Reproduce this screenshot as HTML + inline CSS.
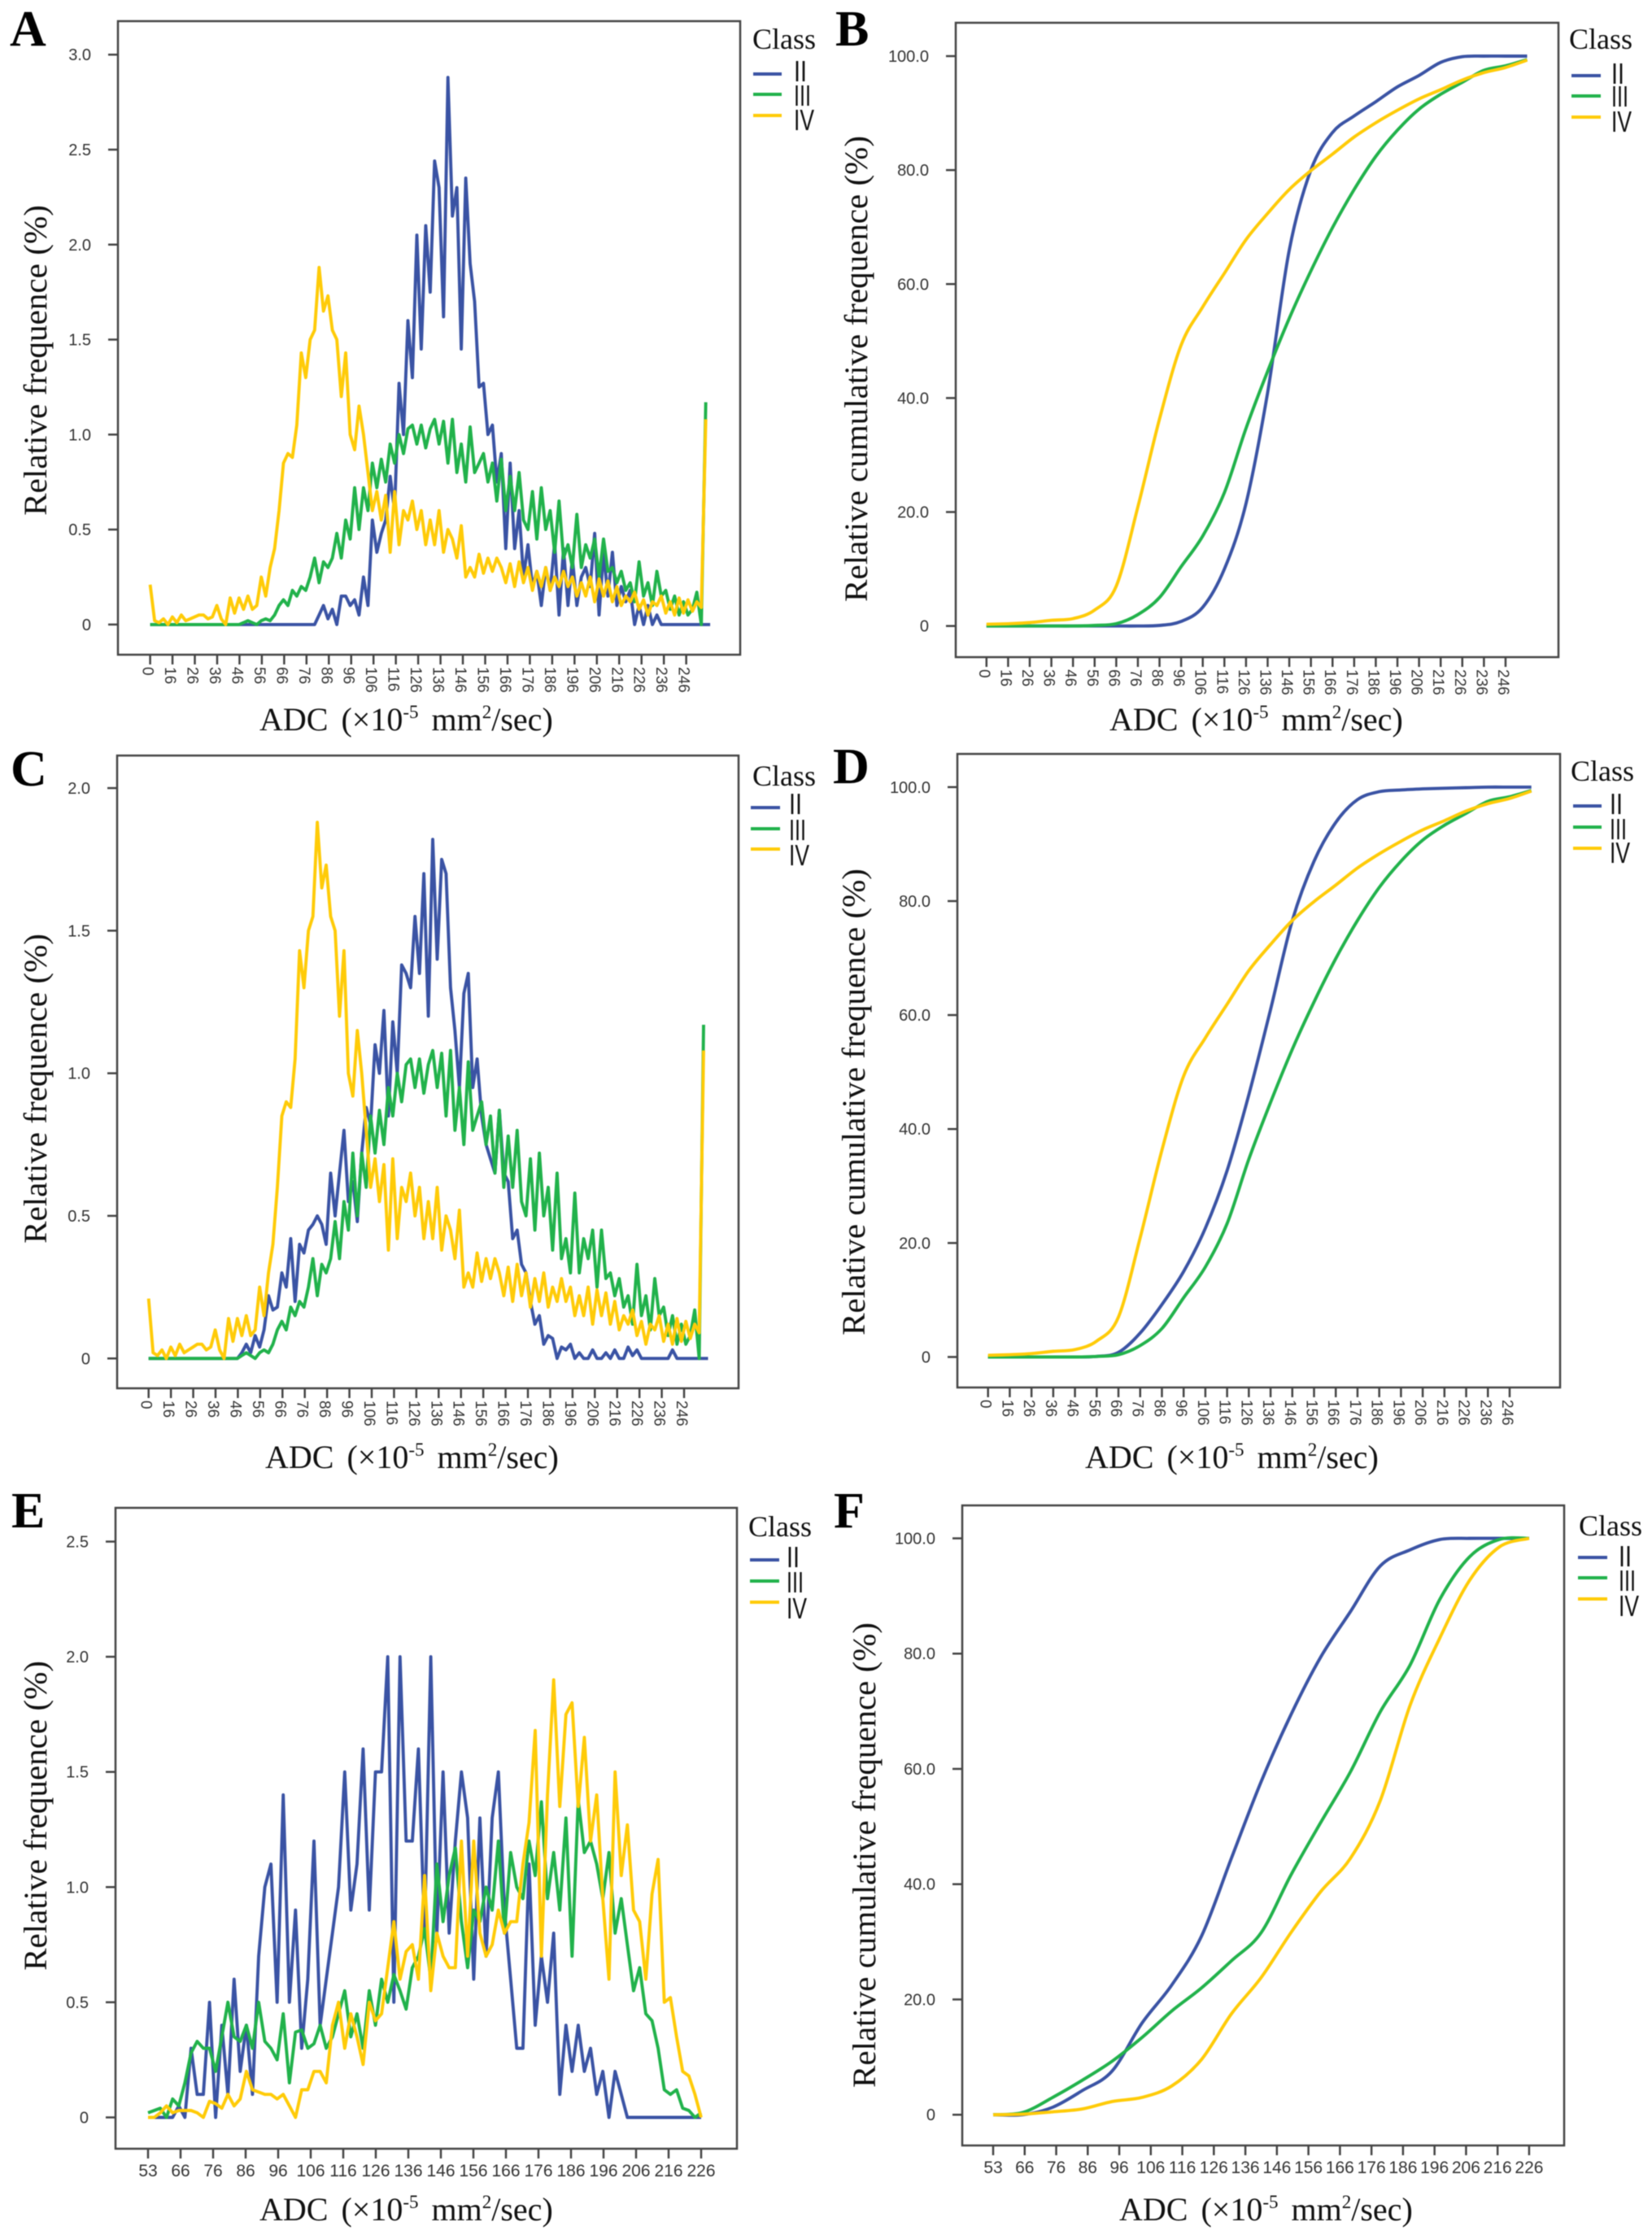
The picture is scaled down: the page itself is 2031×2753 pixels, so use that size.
<!DOCTYPE html>
<html lang="en">
<head>
<meta charset="utf-8">
<title>ADC histograms by class</title>
<style>
html,body{margin:0;padding:0;background:#fff;width:2031px;height:2753px;overflow:hidden}
svg{display:block;filter:blur(.6px)}
.letter{font:bold 62px "Liberation Serif",serif;fill:#000}
.cls{font:36px "Liberation Serif",serif;fill:#111}
.lab{font:36px "Liberation Sans",sans-serif;fill:#111}
.axt{font:40px "Liberation Serif",serif;fill:#111}
.sup{font-size:23px}
.tick{font:20px "Liberation Sans",sans-serif;fill:#333}
.frame{fill:none;stroke:#444;stroke-width:2.5}
.leg{stroke-width:4;fill:none}
.c2{stroke:#3a53a4}.c3{stroke:#21b24b}.c4{stroke:#ffcb08}
</style>
</head>
<body>
<svg id="figure" xmlns="http://www.w3.org/2000/svg" width="2031" height="2753" viewBox="0 0 2031 2753">

<g id="panel-a">
<text class="letter" x="12" y="56">A</text>
<rect class="frame" x="145" y="26" width="765" height="779"/>
<text class="axt" transform="translate(57,634) rotate(-90)" textLength="382" lengthAdjust="spacingAndGlyphs">Relative frequence (%)</text>
<text class="axt" x="319" y="898" word-spacing="6">ADC (×10<tspan class="sup" dy="-15">-5</tspan><tspan dy="15"> mm</tspan><tspan class="sup" dy="-15">2</tspan><tspan dy="15">/sec)</tspan></text>
<text class="cls" x="925" y="60">Class</text>
<line class="leg c2" x1="926" x2="961" y1="91" y2="91"/>
<line class="leg c3" x1="926" x2="961" y1="116" y2="116"/>
<line class="leg c4" x1="926" x2="961" y1="142" y2="142"/>
<text class="lab" x="976" y="100" textLength="16" lengthAdjust="spacingAndGlyphs">II</text>
<text class="lab" x="976" y="130" textLength="21" lengthAdjust="spacingAndGlyphs">III</text>
<text class="lab" x="976" y="160" textLength="25" lengthAdjust="spacingAndGlyphs">IV</text>
</g>

<g id="panel-b">
<text class="letter" x="1027" y="56">B</text>
<rect class="frame" x="1175" y="28" width="741" height="780"/>
<text class="axt" transform="translate(1066,740) rotate(-90)" textLength="573" lengthAdjust="spacingAndGlyphs">Relative cumulative frequence (%)</text>
<text class="axt" x="1364" y="898" word-spacing="6">ADC (×10<tspan class="sup" dy="-15">-5</tspan><tspan dy="15"> mm</tspan><tspan class="sup" dy="-15">2</tspan><tspan dy="15">/sec)</tspan></text>
<text class="cls" x="1929" y="60">Class</text>
<line class="leg c2" x1="1932" x2="1968" y1="93" y2="93"/>
<line class="leg c3" x1="1932" x2="1968" y1="118" y2="118"/>
<line class="leg c4" x1="1932" x2="1968" y1="144" y2="144"/>
<text class="lab" x="1981" y="103" textLength="16" lengthAdjust="spacingAndGlyphs">II</text>
<text class="lab" x="1981" y="131" textLength="21" lengthAdjust="spacingAndGlyphs">III</text>
<text class="lab" x="1981" y="162" textLength="25" lengthAdjust="spacingAndGlyphs">IV</text>
</g>

<g id="panel-c">
<text class="letter" x="13" y="966">C</text>
<rect class="frame" x="144" y="929" width="764" height="778"/>
<text class="axt" transform="translate(57,1529) rotate(-90)" textLength="381" lengthAdjust="spacingAndGlyphs">Relative frequence (%)</text>
<text class="axt" x="326" y="1805" word-spacing="6">ADC (×10<tspan class="sup" dy="-15">-5</tspan><tspan dy="15"> mm</tspan><tspan class="sup" dy="-15">2</tspan><tspan dy="15">/sec)</tspan></text>
<text class="cls" x="925" y="966">Class</text>
<line class="leg c2" x1="923" x2="959" y1="993" y2="993"/>
<line class="leg c3" x1="923" x2="959" y1="1019" y2="1019"/>
<line class="leg c4" x1="923" x2="959" y1="1044" y2="1044"/>
<text class="lab" x="970" y="1001" textLength="16" lengthAdjust="spacingAndGlyphs">II</text>
<text class="lab" x="970" y="1033" textLength="21" lengthAdjust="spacingAndGlyphs">III</text>
<text class="lab" x="970" y="1064" textLength="25" lengthAdjust="spacingAndGlyphs">IV</text>
</g>

<g id="panel-d">
<text class="letter" x="1024" y="963">D</text>
<rect class="frame" x="1177" y="927" width="741" height="779"/>
<text class="axt" transform="translate(1063,1642) rotate(-90)" textLength="574" lengthAdjust="spacingAndGlyphs">Relative cumulative frequence (%)</text>
<text class="axt" x="1334" y="1805" word-spacing="6">ADC (×10<tspan class="sup" dy="-15">-5</tspan><tspan dy="15"> mm</tspan><tspan class="sup" dy="-15">2</tspan><tspan dy="15">/sec)</tspan></text>
<text class="cls" x="1931" y="960">Class</text>
<line class="leg c2" x1="1934" x2="1969" y1="991" y2="991"/>
<line class="leg c3" x1="1934" x2="1969" y1="1017" y2="1017"/>
<line class="leg c4" x1="1934" x2="1969" y1="1043" y2="1043"/>
<text class="lab" x="1979" y="1001" textLength="16" lengthAdjust="spacingAndGlyphs">II</text>
<text class="lab" x="1979" y="1032" textLength="21" lengthAdjust="spacingAndGlyphs">III</text>
<text class="lab" x="1979" y="1061" textLength="25" lengthAdjust="spacingAndGlyphs">IV</text>
</g>

<g id="panel-e">
<text class="letter" x="14" y="1878">E</text>
<rect class="frame" x="142" y="1854" width="764" height="788"/>
<text class="axt" transform="translate(57,2423) rotate(-90)" textLength="381" lengthAdjust="spacingAndGlyphs">Relative frequence (%)</text>
<text class="axt" x="319" y="2730" word-spacing="6">ADC (×10<tspan class="sup" dy="-15">-5</tspan><tspan dy="15"> mm</tspan><tspan class="sup" dy="-15">2</tspan><tspan dy="15">/sec)</tspan></text>
<text class="cls" x="920" y="1889">Class</text>
<line class="leg c2" x1="922" x2="958" y1="1918" y2="1918"/>
<line class="leg c3" x1="922" x2="958" y1="1944" y2="1944"/>
<line class="leg c4" x1="922" x2="958" y1="1970" y2="1970"/>
<text class="lab" x="967" y="1927" textLength="16" lengthAdjust="spacingAndGlyphs">II</text>
<text class="lab" x="967" y="1958" textLength="21" lengthAdjust="spacingAndGlyphs">III</text>
<text class="lab" x="967" y="1990" textLength="25" lengthAdjust="spacingAndGlyphs">IV</text>
</g>

<g id="panel-f">
<text class="letter" x="1025" y="1878">F</text>
<rect class="frame" x="1183" y="1851" width="740" height="787"/>
<text class="axt" transform="translate(1076,2567) rotate(-90)" textLength="572" lengthAdjust="spacingAndGlyphs">Relative cumulative frequence (%)</text>
<text class="axt" x="1376" y="2730" word-spacing="6">ADC (×10<tspan class="sup" dy="-15">-5</tspan><tspan dy="15"> mm</tspan><tspan class="sup" dy="-15">2</tspan><tspan dy="15">/sec)</tspan></text>
<text class="cls" x="1941" y="1888">Class</text>
<line class="leg c2" x1="1940" x2="1976" y1="1915" y2="1915"/>
<line class="leg c3" x1="1940" x2="1976" y1="1940" y2="1940"/>
<line class="leg c4" x1="1940" x2="1976" y1="1966" y2="1966"/>
<text class="lab" x="1990" y="1926" textLength="16" lengthAdjust="spacingAndGlyphs">II</text>
<text class="lab" x="1990" y="1956" textLength="21" lengthAdjust="spacingAndGlyphs">III</text>
<text class="lab" x="1990" y="1987" textLength="25" lengthAdjust="spacingAndGlyphs">IV</text>
</g>
</svg>

<script>
// Category tick labels
const adcTicksWide = ['0','16','26','36','46','56','66','76','86','96','106','116','126','136','146','156','166','176','186','196','206','216','226','236','246'];
const adcTicksNarrow = ['53','66','76','86','96','106','116','126','136','146','156','166','176','186','196','206','216','226'];
// Value tick labels
const freqTicks30 = ['0','0.5','1.0','1.5','2.0','2.5','3.0'];
const freqTicks20 = ['0','0.5','1.0','1.5','2.0'];
const freqTicks25 = ['0','0.5','1.0','1.5','2.0','2.5'];
const cumTicks = ['0','20.0','40.0','60.0','80.0','100.0'];

// Relative frequency, one value at each sampled category
const histA_II = [
0,0,0,0,0,0,0,0,0,0,0,0,0,0,0,0,0,0,0,
0,0,0,0,0,0,0,0,0,0,0,0,0,0,0,0,0,0,0,
.05,.1,.03,.08,0,.15,.15,.1,.13,.05,
.25,.1,.55,.38,.48,.55,.78,.6,
1.27,1.0,1.6,1.3,2.05,1.45,2.1,1.75,2.44,2.3,1.62,2.88,2.15,2.3,1.45,2.35,1.9,1.7,1.25,
1.27,1.0,1.05,.75,.9,.4,.85,.4,.6,.25,.42,.2,.28,.1,.3,.18,.43,.05,.4,.1,.35,.1,.25,.3,.2,.48,.05,.38,.15,.38,.1,.2,.12,.18,0,.1,0,.1,0,.05,
0,0,0,0,0,0,0,0,0,0,0,0];
const histAC_III = [
0,0,0,0,0,0,0,0,0,0,0,0,0,0,0,0,0,0,0,0,0,
.01,.02,.01,0,.02,.03,.02,.05,.1,.13,.1,.18,.15,.2,.18,.25,.35,.22,.33,.3,.35,.48,.35,.55,.45,
.72,.5,.72,.6,.85,.72,.87,.75,.95,.85,1.0,.9,1.03,1.05,.95,1.05,.93,1.03,1.08,.95,1.07,.85,1.08,.8,.95,.75,1.04,.8,.85,.9,
.75,.85,.65,.87,.6,.78,.6,.8,.55,.5,.7,.45,.72,.5,.6,.38,.65,.35,.42,.3,.58,.3,.42,.35,.45,.25,.45,.28,.3,.22,.28,.18,.22,.12,.33,.15,.22,.1,.28,.15,.18,.08,.15,.05,.12,.05,.08,.17,0,1.17];
const histAC_IV = [
.21,.02,.01,.03,0,.04,.01,.05,.02,.03,.04,.05,.05,.03,.04,.1,.03,0,.14,.06,.14,.08,.15,.08,.1,
.25,.15,.3,.4,.6,.85,.9,.88,1.05,1.43,1.3,1.5,1.55,1.88,1.65,1.73,1.55,1.5,1.2,1.43,1.0,.92,1.15,1.0,.8,.6,.7,.55,.68,.38,.7,.42,.6,.55,.65,.5,.6,.42,.55,.42,.6,.38,.5,.45,.35,.52,.25,.3,
.25,.37,.27,.35,.28,.35,.3,.22,.32,.2,.33,.22,.3,.18,.28,.2,.3,.18,.25,.2,.28,.2,.25,.15,.22,.15,.25,.12,.24,.15,.23,.12,.2,.1,.15,.12,.17,.08,.13,.05,.12,.1,.15,.06,.12,.05,.14,.06,.13,.07,.12,.09,1.08];
const histC_II = [
0,0,0,0,0,0,0,0,0,0,0,0,0,0,0,0,0,0,0,0,0,
.02,.05,.02,.08,.04,.1,.22,.17,.18,.3,.25,.42,.2,.4,.37,.45,.47,.5,.47,.4,.65,.5,.65,.8,.55,.62,.48,.72,.88,.82,
1.1,1.0,1.22,.85,1.18,1.0,1.38,1.35,1.3,1.55,1.35,1.7,1.2,1.82,1.4,1.75,1.7,1.3,1.15,.95,1.28,1.35,.95,1.05,.85,.75,.7,.65,.87,.65,.62,.42,.45,.33,.3,.2,.12,.15,.05,.08,.07,0,.04,.03,.05,0,.02,0,0,.03,0,0,.02,0,.03,0,0,.04,.01,.03,0,0,0,0,0,0,0,.03,0,0,0,0,0,0,0,0];
const histE_II = [
0,0,0,0,0,.05,0,.3,.1,.1,.5,0,.4,.1,.6,.2,.4,.1,.7,1.0,1.1,.5,1.4,.5,.9,.3,.6,1.2,.4,.6,.8,1.0,1.5,.9,1.1,1.6,.9,1.5,1.5,2.0,.5,2.0,1.2,1.2,1.6,.8,2.0,.8,1.5,.8,1.2,1.5,1.3,.6,1.3,.7,1.3,1.5,.9,.6,.3,.3,1.1,.4,.7,.5,.8,.1,.4,.2,.4,.2,.3,.1,.2,0,.2,.1,0,0,0,0,0,0,0,0,0,0,0,0,0];
const histE_III = [
.02,.03,.04,0,.08,.05,.15,.28,.33,.3,.3,.2,.35,.5,.35,.33,.4,.3,.5,.33,.3,.25,.45,.15,.37,.38,.3,.32,.4,.3,.35,.45,.55,.35,.45,.3,.55,.4,.6,.5,.62,.55,.47,.65,.7,.82,.6,1.1,.85,1.05,1.17,.85,.65,.9,.85,1.0,.9,1.2,.8,1.15,1.0,.95,1.2,1.05,1.37,.95,1.15,.9,1.3,.7,1.38,1.15,1.2,1.1,.95,1.15,.8,.95,.75,.55,.65,.45,.42,.3,.12,.1,.12,.04,.03,0,.02];
const histE_IV = [
0,0,.02,.05,.02,.03,.03,.03,.02,0,.07,.06,.04,.1,.05,.08,.2,.12,.11,.1,.1,.08,.1,.05,0,.12,.12,.2,.2,.15,.4,.5,.3,.45,.35,.23,.5,.42,.45,.65,.85,.6,.72,.75,.6,1.05,.55,.8,.7,.65,.65,1.2,.7,1.2,.8,.7,.75,.9,.8,.85,.85,1.1,1.28,1.68,.7,1.4,1.9,1.35,1.75,1.8,1.35,1.65,1.2,1.4,.95,.6,1.5,1.05,1.27,.9,.85,.6,.97,1.12,.5,.52,.35,.2,.18,.1,0];

// Relative cumulative frequency, one value at each sampled category
const cumB_II = [0,0,0,0,0,0,0,0,.1,.8,3.3,10,21.5,41,66,80,86.6,89.5,92,94.6,96.6,98.9,99.9,100,100,100];
const cumBD_III = [0,0,0,0,0,.1,.4,2,5,10.4,15.8,23.4,34.7,44.7,54,62.3,69.9,76.6,82.4,87,90.7,93.3,95.4,97.5,98.3,99.4];
const cumBD_IV = [.3,.4,.6,1,1.3,2.8,7,20.9,36.3,49.3,56,61.9,67.8,72.4,76.6,79.9,82.8,85.8,88.3,90.5,92.5,94.1,95.8,97.1,98,99.3];
const cumD_II = [0,0,0,0,0,.1,.8,4.2,9.2,15,22.6,32.7,46,61,76.6,87,93.8,97.8,99.2,99.5,99.7,99.8,99.9,100,100,100];
const cumF_II = [0,0,1.3,4.2,7.6,15.9,22.5,31,44.5,57.8,69.4,79.4,87.3,95.2,98,99.8,100,100,100];
const cumF_III = [0,.4,3,6,9.3,13.4,18,22,26.7,31.6,41.6,50.7,59.5,69.9,78,89.4,96.8,99.8,100];
const cumF_IV = [0,.1,.5,1,2.3,3,5,9.6,17.5,23.8,31.6,38.7,44.5,54.5,71,82.7,92.7,98.5,100];

const NS = 'http://www.w3.org/2000/svg';
const COLORS = {II:'#3a53a4', III:'#21b24b', IV:'#ffcb08'};

function xAxis(p, category) { return p.x0 + category * p.xUnit; }
function yAxis(p, value) { return p.y0 - value * (p.y0 - p.yTop) / p.yMax; }

function noisyPath(p, values, step) {
  let d = '';
  values.forEach(function (v, i) {
    d += (i ? 'L' : 'M') + xAxis(p, i * step).toFixed(1) + ' ' + yAxis(p, v).toFixed(1);
  });
  return d;
}
function smoothPath(p, values, step) {
  const pts = values.map(function (v, i) { return [xAxis(p, i * step), yAxis(p, v)]; });
  let d = 'M' + pts[0][0].toFixed(1) + ' ' + pts[0][1].toFixed(1);
  for (let i = 0; i < pts.length - 1; i++) {
    const a = pts[Math.max(0, i - 1)], b = pts[i], c = pts[i + 1], e = pts[Math.min(pts.length - 1, i + 2)];
    d += 'C' + (b[0] + (c[0] - a[0]) / 6).toFixed(1) + ' ' + (b[1] + (c[1] - a[1]) / 6).toFixed(1) + ' ' +
      (c[0] - (e[0] - b[0]) / 6).toFixed(1) + ' ' + (c[1] - (e[1] - b[1]) / 6).toFixed(1) + ' ' +
      c[0].toFixed(1) + ' ' + c[1].toFixed(1);
  }
  return d;
}

function drawPanel(p) {
  const root = document.getElementById(p.id);
  // y ticks
  p.yLabels.forEach(function (label) {
    const v = parseFloat(label);
    const y = yAxis(p, v);
    const t = document.createElementNS(NS, 'line');
    
    
    t.setAttribute('x1', p.left); t.setAttribute('x2', p.left - 12);
    t.setAttribute('y1', y); t.setAttribute('y2', y);
    t.setAttribute('stroke', '#444'); t.setAttribute('stroke-width', '2.5');
    root.appendChild(t);
    const s = document.createElementNS(NS, 'text');
    
    
    s.setAttribute('class', 'tick');
    s.setAttribute('x', p.left - 33); s.setAttribute('y', y + 7);
    s.setAttribute('text-anchor', 'end');
    s.textContent = label;
    root.appendChild(s);
  });
  // x ticks
  p.xLabels.forEach(function (label, k) {
    const x = xAxis(p, k * 10);
    const t = document.createElementNS(NS, 'line');
    
    
    t.setAttribute('x1', x); t.setAttribute('x2', x);
    t.setAttribute('y1', p.bottom); t.setAttribute('y2', p.bottom + 12);
    t.setAttribute('stroke', '#444'); t.setAttribute('stroke-width', '2.5');
    root.appendChild(t);
    const s = document.createElementNS(NS, 'text');
    
    
    s.setAttribute('class', 'tick');
    if (p.rotated) {
      s.setAttribute('transform', 'translate(' + (x - 9) + ',' + (p.bottom + 15) + ') rotate(90)');
      s.style.fontSize = '19px';
    } else {
      s.setAttribute('x', x); s.setAttribute('y', p.xLabelY);
      s.setAttribute('text-anchor', 'middle');
      s.style.fontSize = '21px';
    }
    s.textContent = label;
    root.appendChild(s);
  });
  // series
  p.series.forEach(function (sr) {
    const line = document.createElementNS(NS, 'path');
    
    
    line.setAttribute('d', p.smooth ? smoothPath(p, sr.values, p.step) : noisyPath(p, sr.values, p.step));
    line.setAttribute('fill', 'none');
    line.setAttribute('stroke', COLORS[sr.cls]);
    line.setAttribute('stroke-width', '3.9');
    line.setAttribute('stroke-linejoin', 'round');
    root.appendChild(line);
  });
}

[
  {id:'panel-a', left:145, bottom:805, x0:184.6, xUnit:2.746, y0:767.9, yTop:67.2, yMax:3, step:1.99, rotated:true, xLabels:adcTicksWide, yLabels:freqTicks30,
   series:[{cls:'II',values:histA_II},{cls:'III',values:histAC_III},{cls:'IV',values:histAC_IV}]},
  {id:'panel-b', left:1175, bottom:808, x0:1212.8, xUnit:2.659, y0:769.7, yTop:69, yMax:100, step:10, smooth:true, rotated:true, xLabels:adcTicksWide, yLabels:cumTicks,
   series:[{cls:'II',values:cumB_II},{cls:'III',values:cumBD_III},{cls:'IV',values:cumBD_IV}]},
  {id:'panel-c', left:144, bottom:1707, x0:182.7, xUnit:2.743, y0:1670.3, yTop:969, yMax:2, step:1.99, rotated:true, xLabels:adcTicksWide, yLabels:freqTicks20,
   series:[{cls:'II',values:histC_II},{cls:'III',values:histAC_III},{cls:'IV',values:histAC_IV}]},
  {id:'panel-d', left:1177, bottom:1706, x0:1214.7, xUnit:2.672, y0:1668.5, yTop:967.8, yMax:100, step:10, smooth:true, rotated:true, xLabels:adcTicksWide, yLabels:cumTicks,
   series:[{cls:'II',values:cumD_II},{cls:'III',values:cumBD_III},{cls:'IV',values:cumBD_IV}]},
  {id:'panel-e', left:142, bottom:2642, x0:182, xUnit:4.0, y0:2603.5, yTop:1895.5, yMax:2.5, step:170/90, xLabelY:2676, xLabels:adcTicksNarrow, yLabels:freqTicks25,
   series:[{cls:'II',values:histE_II},{cls:'III',values:histE_III},{cls:'IV',values:histE_IV}]},
  {id:'panel-f', left:1183, bottom:2638, x0:1221, xUnit:3.876, y0:2600.2, yTop:1891.5, yMax:100, step:170/18, smooth:true, xLabelY:2672, xLabels:adcTicksNarrow, yLabels:cumTicks,
   series:[{cls:'II',values:cumF_II},{cls:'III',values:cumF_III},{cls:'IV',values:cumF_IV}]}
].forEach(drawPanel);
</script>
</body>
</html>
